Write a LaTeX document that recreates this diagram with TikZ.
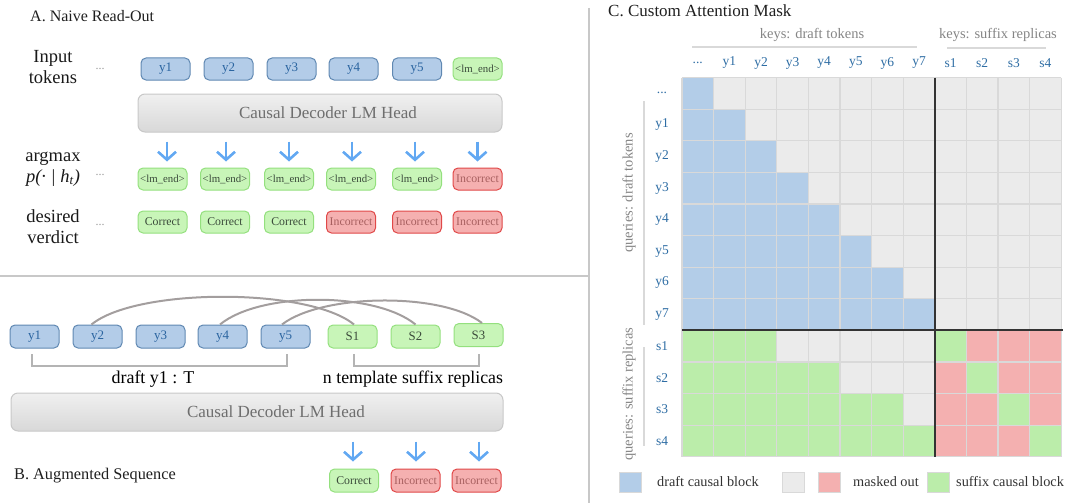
\documentclass[tikz,border=0pt]{standalone}
\usepackage{fontspec}
\setmainfont{Liberation Serif}
\usetikzlibrary{arrows.meta}
\definecolor{tokblue}{HTML}{B3CCE8}
\definecolor{tokbluedraw}{HTML}{6088B2}
\definecolor{tokbluetext}{HTML}{2A64A0}
\definecolor{tokgreen}{HTML}{C8F5B8}
\definecolor{tokgreendraw}{HTML}{94E07E}
\definecolor{tokgreentext}{HTML}{3A4A3A}
\definecolor{tokred}{HTML}{F5B0B0}
\definecolor{tokreddraw}{HTML}{E04848}
\definecolor{tokredtext}{HTML}{A86060}
\definecolor{headdraw}{HTML}{C8C8C8}
\definecolor{headtop}{HTML}{F0F0F0}
\definecolor{headbot}{HTML}{D8D8D8}
\definecolor{headtext}{HTML}{6E6E6E}
\definecolor{arrblue}{HTML}{62A8F2}
\definecolor{arcgray}{HTML}{A39E9E}
\definecolor{divgray}{HTML}{C8C8C8}
\definecolor{cblue}{HTML}{B3CDE8}
\definecolor{cgray}{HTML}{EBEBEB}
\definecolor{cgreen}{HTML}{BBEDAA}
\definecolor{cred}{HTML}{F4B0B0}
\definecolor{gridline}{HTML}{D9D9D9}
\definecolor{lblblue}{HTML}{2E6DA4}
\definecolor{keygray}{HTML}{858585}
\newcommand{\fsz}[1]{\fontsize{#1}{#1}\selectfont}
\newcommand{\threedots}{...}
\begin{document}
\begin{tikzpicture}[x=1pt,y=-1pt,
  tok/.style={rounded corners=5pt, minimum width=49pt, minimum height=22pt, inner sep=0pt, line width=1pt},
  tb/.style={tok, fill=tokblue, draw=tokbluedraw, text=tokbluetext, font=\fsz{13}},
  tg/.style={tok, fill=tokgreen, draw=tokgreendraw, text=tokgreentext, font=\fsz{11.8}},
  tgl/.style={tg, font=\fsz{10.8}},
  tr/.style={tok, fill=tokred, draw=tokreddraw, text=tokredtext, font=\fsz{11.8}},
  head/.style={rounded corners=7pt, draw=headdraw, line width=1pt, top color=headtop, bottom color=headbot, text=headtext, font=\fsz{17}, inner sep=0pt, minimum height=38pt},
  arr/.style={draw=arrblue, line width=2.6pt, -{Straight Barb[length=8pt,width=18pt]}},
  arcln/.style={draw=arcgray, line width=2pt},
  brk/.style={draw=headdraw!90!black, line width=1.4pt},
  divline/.style={draw=divgray, line width=1.3pt},
  sidelbl/.style={align=center, font=\fontsize{18.5}{21}\selectfont, text=black!90},
  dots/.style={text=black!40, font=\fsz{12}},
  title/.style={anchor=west, text=black!88, inner sep=0pt},
  clbl/.style={text=lblblue, font=\fsz{13.5}, inner sep=0pt},
  keylbl/.style={text=keygray, font=\fsz{14.5}, inner sep=0pt},
  legsq/.style={minimum width=22pt, minimum height=20pt, inner sep=0pt, draw=gridline, line width=1pt},
  legtxt/.style={anchor=west, text=black!80, font=\fsz{14.3}, inner sep=0pt}
]
\useasboundingbox (0,0) rectangle (1067,503);

% dividers
\draw[divline] (589,8) -- (589,503);
\draw[divline] (0,276) -- (589,276);

% ===== Panel A =====
\node[title, font=\fsz{16}] (tA) at (30,16) {A. Naive Read-Out};
\node[sidelbl] (lInput) at (53,67) {Input\\tokens};
\node[sidelbl] (lArg) at (53,169) {argmax\\{\itshape p(· | h\textsubscript{t})}};
\node[sidelbl] (lDes) at (53,227) {desired\\verdict};
\node[dots] (d1) at (100,69) {\threedots};
\node[dots] (d2) at (100,175) {\threedots};
\node[dots] (d3) at (100,225) {\threedots};

\node[tb] (i1) at (165.5,69) {y1};
\node[tb] (i2) at (228.5,69) {y2};
\node[tb] (i3) at (291.5,69) {y3};
\node[tb] (i4) at (353.5,69) {y4};
\node[tb] (i5) at (417,69) {y5};
\node[tgl] (i6) at (477.5,69) {<lm\_end>};

\node[head, minimum width=364pt] (headA) at (320,113) {\hspace*{16pt}Causal Decoder LM Head};

\node[tgl] (a1) at (162.5,179) {<lm\_end>};
\node[tgl] (a2) at (225,179) {<lm\_end>};
\node[tgl] (a3) at (289,179) {<lm\_end>};
\node[tgl] (a4) at (351,179) {<lm\_end>};
\node[tgl] (a5) at (417,179) {<lm\_end>};
\node[tr] (a6) at (477.5,179) {Incorrect};

\node[tg] (v1) at (162.5,222) {Correct};
\node[tg] (v2) at (225,222) {Correct};
\node[tg] (v3) at (289,222) {Correct};
\node[tr] (v4) at (351,222) {Incorrect};
\node[tr] (v5) at (417,222) {Incorrect};
\node[tr] (v6) at (477.5,222) {Incorrect};

\foreach \n/\dx in {a1/4.5,a2/1,a3/0,a4/1,a5/-2,a6/0}{
  \draw[arr, shorten <=9pt, shorten >=6pt] ([xshift=\dx pt]\n.north |- headA.south) -- ([xshift=\dx pt]\n.north);
}

% ===== Panel B =====
\node[tb, minimum height=23pt] (b1) at (34.5,336.5) {y1};
\node[tb, minimum height=23pt] (b2) at (97.5,336.5) {y2};
\node[tb, minimum height=23pt] (b3) at (160.5,336.5) {y3};
\node[tb, minimum height=23pt] (b4) at (222.5,336.5) {y4};
\node[tb, minimum height=23pt] (b5) at (285.5,336.5) {y5};
\node[tg, minimum height=23pt, font=\fsz{12.8}] (s1) at (352.5,336.5) {S1};
\node[tg, minimum height=23pt, font=\fsz{12.8}] (s2) at (415.5,336.5) {S2};
\node[tg, minimum height=23pt, font=\fsz{12.8}] (s3) at (478.5,335) {S3};

\draw[arcln] ([xshift=-6pt]b2.north) .. controls +(45,-37) and +(-45,-37) .. ([xshift=1.5pt]s1.north);
\draw[arcln] ([xshift=-2.5pt]b4.north) .. controls +(40,-33) and +(-40,-33) .. (s2.north);
\draw[arcln] ([xshift=-3.5pt]b5.north) .. controls +(40,-31) and +(-40,-31) .. ([xshift=3.5pt]s3.north);

\draw[brk] ([xshift=-2.5pt,yshift=-5.5pt]b1.south) -- ++(0,12) -| ([xshift=1.5pt,yshift=-5.5pt]b5.south);
\draw[brk] ([xshift=1.5pt,yshift=-5.5pt]s1.south) -- ++(0,12) -| ([xshift=0.5pt,yshift=-7pt]s3.south);

\node[text=black, font=\fsz{18}, inner sep=0pt] (ldraft) at (153,379) {draft y1 : T};
\node[text=black, font=\fsz{17.8}, inner sep=0pt] (lsuf) at (413,379) {n template suffix replicas};

\node[head, minimum width=492pt] (headB) at (257,412) {\hspace*{38pt}Causal Decoder LM Head};

\node[tg, minimum height=23pt] (r1) at (354,480.5) {Correct};
\node[tr, minimum height=23pt] (r2) at (415.5,480.5) {Incorrect};
\node[tr, minimum height=23pt] (r3) at (476.5,480.5) {Incorrect};

\foreach \n/\dx in {r1/-1,r2/0.5,r3/2.5}{
  \draw[arr, shorten <=10pt, shorten >=7pt] ([xshift=\dx pt]\n.north |- headB.south) -- ([xshift=\dx pt]\n.north);
}

\node[title, font=\fsz{16.3}] (tB) at (14,476) {B. Augmented Sequence};

% ===== Panel C =====
\node[title, font=\fsz{17}] (tC) at (608,11) {C. Custom Attention Mask};

\node[keylbl] (kd) at (812,35) {keys: draft tokens};
\node[keylbl] (ks) at (998,35) {keys: suffix replicas};
\draw[draw=gridline, line width=1.3pt] (692,47) -- (917,47);
\draw[draw=gridline, line width=1.3pt] (947,48) -- (1046,48);

% cells
\fill[cgray] (682,77.5) rectangle (1061.2,456.7);
\foreach \r in {0,...,7}{
  \foreach \c in {0,...,\r}{
    \fill[cblue] ({682+\c*31.6},{77.5+\r*31.6}) rectangle ++(31.6,31.6);
  }
}
\foreach \k/\m in {0/2,1/4,2/6,3/7}{
  \foreach \c in {0,...,\m}{
    \fill[cgreen] ({682+\c*31.6},{77.5+(8+\k)*31.6}) rectangle ++(31.6,31.6);
  }
}
\fill[cred] ({682+8*31.6},{77.5+8*31.6}) rectangle (1061.2,456.7);
\foreach \k in {0,...,3}{
  \fill[cgreen] ({682+(8+\k)*31.6},{77.5+(8+\k)*31.6}) rectangle ++(31.6,31.6);
}
\foreach \i in {0,...,12}{
  \draw[draw=gridline, line width=1.2pt] ({682+\i*31.6},77.5) -- ({682+\i*31.6},456.7);
  \draw[draw=gridline, line width=1.2pt] (682,{77.5+\i*31.6}) -- (1061.2,{77.5+\i*31.6});
}
\draw[draw=black!80, line width=1.8pt] ({682+8*31.6},77.5) -- ({682+8*31.6},456.7);
\draw[draw=black!80, line width=1.8pt] (682,{77.5+8*31.6}) -- (1063,{77.5+8*31.6});

% column / row labels
\foreach \t [count=\i from 0] in {\threedots,y1,y2,y3,y4,y5,y6,y7,s1,s2,s3,s4}{
  \node[clbl] (col\i) at ({682+(\i+0.5)*31.6},63) {\t};
  \node[clbl] (row\i) at (662,{77.5+(\i+0.5)*31.6}) {\t};
}

\draw[draw=gridline, line width=1.3pt] (644,101) -- (644,325);
\draw[draw=gridline, line width=1.3pt] (644,347) -- (644,446);
\node[keylbl, rotate=90] (qd) at (629,193) {queries: draft tokens};
\node[keylbl, rotate=90] (qs) at (629,394) {queries: suffix replicas};

% legend
\node[legsq, fill=cblue] (lg1) at (630,482) {};
\node[legtxt] (lt1) at (657,482) {draft causal block};
\node[legsq, fill=cgray] (lg2) at (793.5,482) {};
\node[legsq, fill=cred] (lg3) at (829,482) {};
\node[legtxt] (lt3) at (853,482) {masked out};
\node[legsq, fill=cgreen] (lg4) at (938.5,482) {};
\node[legtxt] (lt4) at (956,482) {suffix causal block};
\end{tikzpicture}
\end{document}
